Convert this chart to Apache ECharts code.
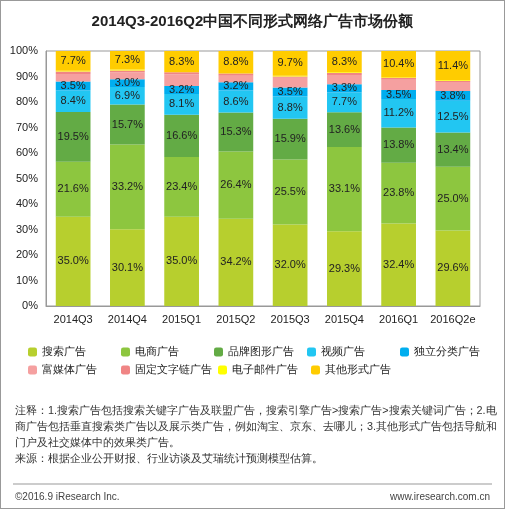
<!DOCTYPE html>
<html>
<head>
<meta charset="UTF-8">
<script src="https://cdn.jsdelivr.net/npm/echarts@6/dist/echarts.min.js"></script>
<style>
    body{margin:0;background:#fff;}
    #main{width:503px;height:507px;border:1px solid #999;}
</style>
</head>
<body>
<div id="main"></div>
<script>
    var categories = ['2014Q3','2014Q4','2015Q1','2015Q2','2015Q3','2015Q4','2016Q1','2016Q2e'];
    var names = ['搜索广告','电商广告','品牌图形广告','视频广告','独立分类广告','富媒体广告','固定文字链广告','电子邮件广告','其他形式广告'];
    var colors = ['#b7cf2e','#8dc63f','#63ab45','#22c6f2','#00aeef','#f5a0a0','#f08585','#ffff00','#ffcc00'];
    var search = [35.0,30.1,35.0,34.2,32.0,29.3,32.4,29.6];
    var ecommerce = [21.6,33.2,23.4,26.4,25.5,33.1,23.8,25.0];
    var brand = [19.5,15.7,16.6,15.3,15.9,13.6,13.8,13.4];
    var video = [8.4,6.9,8.1,8.6,8.8,7.7,11.2,12.5];
    var classified = [3.5,3.0,3.2,3.2,3.5,3.3,3.5,3.8];
    var richMedia = [3.0,2.8,4.6,2.6,3.8,3.6,4.0,3.5];
    var textLink = [1.0,0.7,0.8,0.9,0.5,0.8,0.7,0.5];
    var email = [0.3,0.3,0.0,0.0,0.3,0.3,0.2,0.3];
    var other = [7.7,7.3,8.3,8.8,9.7,8.3,10.4,11.4];
    var allData = [search,ecommerce,brand,video,classified,richMedia,textLink,email,other];
    var labeled = [true,true,true,true,true,false,false,false,true];

    var myChart = echarts.init(document.getElementById('main'));
    var series = allData.map(function(d,i){
        return {
            name:names[i], type:'bar', stack:'all', data:d, barWidth:'64%',
            itemStyle:{color:colors[i]},
            label:{show:labeled[i], color:'#222', fontSize:11, formatter:function(p){return p.value.toFixed(1)+'%';}}
        };
    });
    var option = {
        animation:false,
        title:{text:'2014Q3-2016Q2中国不同形式网络广告市场份额',left:'center',top:8,
            textStyle:{fontSize:15,fontWeight:'bold',color:'#222'}},
        grid:{left:45,right:24,top:50,bottom:202},
        legend:{top:340,left:22,width:480,itemWidth:9,itemHeight:9,itemGap:6,
            textStyle:{fontSize:11,color:'#222',width:73,lineHeight:12},data:names},
        xAxis:{type:'category',data:categories,
            axisLine:{lineStyle:{color:'#999'}},axisTick:{show:false},
            axisLabel:{color:'#222',fontSize:11,interval:0}},
        yAxis:{type:'value',min:0,max:100,interval:10,
            axisLine:{show:true,lineStyle:{color:'#999'}},
            splitLine:{show:false},
            axisLabel:{color:'#222',fontSize:11,formatter:'{value}%'}},
        graphic:[
            {type:'rect',shape:{x:45,y:50,width:434,height:255},style:{fill:'none',stroke:'#999'}},
            {type:'text',left:14,top:402,style:{text:'注释：1.搜索广告包括搜索关键字广告及联盟广告，搜索引擎广告>搜索广告>搜索关键词广告；2.电\n商广告包括垂直搜索类广告以及展示类广告，例如淘宝、京东、去哪儿；3.其他形式广告包括导航和\n门户及社交媒体中的效果类广告。\n来源：根据企业公开财报、行业访谈及艾瑞统计预测模型估算。',
                fill:'#333',fontSize:10.8,lineHeight:16}},
            {type:'line',shape:{x1:12,y1:483,x2:491,y2:483},style:{stroke:'#999'}},
            {type:'text',left:14,top:491,style:{text:'©2016.9 iResearch Inc.',fill:'#444',fontSize:10}},
            {type:'text',right:14,top:491,style:{text:'www.iresearch.com.cn',fill:'#444',fontSize:10}}
        ],
        series:series
    };
    myChart.setOption(option);
</script>
</body>
</html>
